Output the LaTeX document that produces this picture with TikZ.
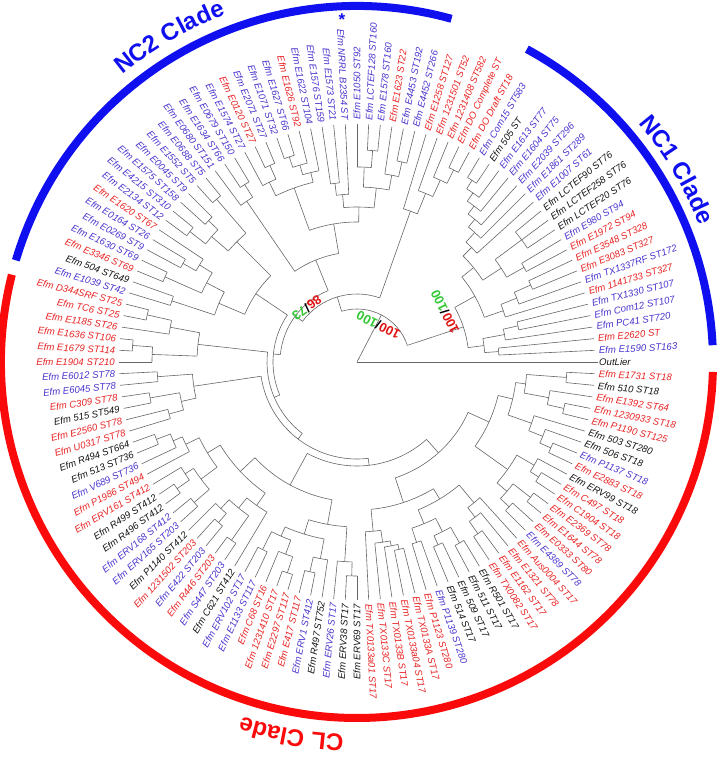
\documentclass[tikz,border=0pt]{standalone}
\usepackage{fontspec}
\setmainfont{Liberation Sans}
\usetikzlibrary{decorations.text}
\definecolor{lr}{RGB}{232,35,35}
\definecolor{lb}{RGB}{72,52,205}
\definecolor{lk}{RGB}{20,20,20}
\definecolor{cladeblue}{RGB}{15,15,240}
\definecolor{cladered}{RGB}{250,10,10}
\definecolor{bsred}{RGB}{225,20,20}
\definecolor{bsgreen}{RGB}{50,200,50}
\tikzset{
  treeline/.style={draw=black!60, line width=0.6pt},
  leaflabel/.style={font=\itshape\fontsize{9.6}{10}\selectfont, inner sep=1pt},
  cladearc/.style={line width=8pt},
  bslabel/.style={font=\bfseries\fontsize{13}{13}\selectfont, inner sep=0pt}
}
\newcommand\leafnode[3]{%
  \pgfmathsetmacro\tkL{#1*2.8125}%
  \expandafter\xdef\csname tA#1\endcsname{\tkL}%
  \expandafter\xdef\csname tR#1\endcsname{238pt}%
  \pgfmathtruncatemacro\tkF{(\tkL>90 && \tkL<=270) ? 1 : 0}%
  \ifnum\tkF=1
    \pgfmathsetmacro\tkT{\tkL+180}%
    \node[leaflabel, text=#2, anchor=east, rotate=\tkT] (L#1) at (\tkL:241pt) {#3};%
  \else
    \node[leaflabel, text=#2, anchor=west, rotate=\tkL] (L#1) at (\tkL:241pt) {#3};%
  \fi}
\newcommand\clade[3]{%
  \gdef\cfirst{}%
  \foreach \cx in {#3}{\ifx\cfirst\empty\xdef\cfirst{\cx}\fi\xdef\clast{\cx}}%
  \edef\tkA{\csname tA\cfirst\endcsname}%
  \edef\tkB{\csname tA\clast\endcsname}%
  \pgfmathsetmacro\tkM{(\tkA+\tkB)/2}%
  \expandafter\xdef\csname tA#1\endcsname{\tkM}%
  \expandafter\xdef\csname tR#1\endcsname{#2pt}%
  \draw[treeline] (\tkA:#2pt) arc[start angle=\tkA, end angle=\tkB, radius=#2pt];%
  \foreach \cx in {#3}{%
    \edef\tkC{\csname tA\cx\endcsname}\edef\tkR{\csname tR\cx\endcsname}%
    \draw[treeline] (\tkC:#2pt) -- (\tkC:\tkR);}%
}
\begin{document}
\begin{tikzpicture}[x=1pt,y=1pt]
\useasboundingbox (-357,-395) rectangle (363,362);
% leaves
\node[leaflabel, text=lk, anchor=west] (L0) at (0:241pt) {OutLier};
\leafnode{1}{lb}{Efm E1590 ST163}
\leafnode{2}{lr}{Efm E2620 ST}
\leafnode{3}{lb}{Efm PC41 ST720}
\leafnode{4}{lb}{Efm Com12 ST107}
\leafnode{5}{lb}{Efm TX1330 ST107}
\leafnode{6}{lr}{Efm 1141733 ST327}
\leafnode{7}{lb}{Efm TX1337RF ST172}
\leafnode{8}{lr}{Efm E3083 ST327}
\leafnode{9}{lr}{Efm E3548 ST328}
\leafnode{10}{lr}{Efm E1972 ST94}
\leafnode{11}{lb}{Efm E980 ST94}
\leafnode{12}{lk}{Efm LCTEF20 ST76}
\leafnode{13}{lk}{Efm LCTEF258 ST76}
\leafnode{14}{lk}{Efm LCTEF90 ST76}
\leafnode{15}{lb}{Efm E1007 ST61}
\leafnode{16}{lb}{Efm E1861 ST289}
\leafnode{17}{lb}{Efm E2039 ST296}
\leafnode{18}{lb}{Efm E1604 ST75}
\leafnode{19}{lb}{Efm E1613 ST77}
\leafnode{20}{lk}{Efm 505 ST}
\leafnode{21}{lb}{Efm Com15 ST583}
\leafnode{22}{lr}{Efm DO Draft ST18}
\leafnode{23}{lr}{Efm DO Complete ST}
\leafnode{24}{lr}{Efm 1231408 ST582}
\leafnode{25}{lr}{Efm 1231501 ST52}
\leafnode{26}{lr}{Efm E1258 ST127}
\leafnode{27}{lb}{Efm E4452 ST266}
\leafnode{28}{lb}{Efm E4453 ST192}
\leafnode{29}{lr}{Efm E1623 ST22}
\leafnode{30}{lb}{Efm E1578 ST160}
\leafnode{31}{lb}{Efm LCTEF128 ST160}
\leafnode{32}{lb}{Efm E1050 ST92}
\leafnode{33}{lb}{Efm NRRL B2354 ST}
\leafnode{34}{lb}{Efm E1573 ST21}
\leafnode{35}{lb}{Efm E1576 ST159}
\leafnode{36}{lb}{Efm E1622 ST104}
\leafnode{37}{lr}{Efm E1626 ST92}
\leafnode{38}{lb}{Efm E1627 ST66}
\leafnode{39}{lb}{Efm E1071 ST32}
\leafnode{40}{lb}{Efm E2071 ST27}
\leafnode{41}{lr}{Efm E0120 ST27}
\leafnode{42}{lb}{Efm E1574 ST27}
\leafnode{43}{lb}{Efm E0679 ST150}
\leafnode{44}{lb}{Efm E1634 ST66}
\leafnode{45}{lb}{Efm E0680 ST151}
\leafnode{46}{lb}{Efm E0688 ST5}
\leafnode{47}{lb}{Efm E1552 ST5}
\leafnode{48}{lb}{Efm E0045 ST9}
\leafnode{49}{lb}{Efm E1575 ST158}
\leafnode{50}{lb}{Efm E4215 ST310}
\leafnode{51}{lb}{Efm E2134 ST12}
\leafnode{52}{lr}{Efm E1620 ST67}
\leafnode{53}{lb}{Efm E0164 ST26}
\leafnode{54}{lb}{Efm E0269 ST9}
\leafnode{55}{lb}{Efm E1630 ST69}
\leafnode{56}{lr}{Efm E3346 ST69}
\leafnode{57}{lk}{Efm 504 ST649}
\leafnode{58}{lb}{Efm E1039 ST42}
\leafnode{59}{lr}{Efm D344SRF ST25}
\leafnode{60}{lr}{Efm TC6 ST25}
\leafnode{61}{lr}{Efm E1185 ST26}
\leafnode{62}{lr}{Efm E1636 ST106}
\leafnode{63}{lr}{Efm E1679 ST114}
\leafnode{64}{lr}{Efm E1904 ST210}
\leafnode{65}{lb}{Efm E6012 ST78}
\leafnode{66}{lb}{Efm E6045 ST78}
\leafnode{67}{lr}{Efm C309 ST78}
\leafnode{68}{lk}{Efm 515 ST549}
\leafnode{69}{lr}{Efm E2560 ST78}
\leafnode{70}{lr}{Efm U0317 ST78}
\leafnode{71}{lk}{Efm R494 ST664}
\leafnode{72}{lk}{Efm 513 ST736}
\leafnode{73}{lb}{Efm V689 ST736}
\leafnode{74}{lr}{Efm P1986 ST494}
\leafnode{75}{lr}{Efm ERV161 ST412}
\leafnode{76}{lk}{Efm R499 ST412}
\leafnode{77}{lk}{Efm R496 ST412}
\leafnode{78}{lb}{Efm ERV168 ST412}
\leafnode{79}{lb}{Efm ERV165 ST203}
\leafnode{80}{lk}{Efm P1140 ST412}
\leafnode{81}{lr}{Efm 1231502 ST203}
\leafnode{82}{lb}{Efm E422 ST203}
\leafnode{83}{lr}{Efm R446 ST203}
\leafnode{84}{lb}{Efm S447 ST203}
\leafnode{85}{lk}{Efm C621 ST412}
\leafnode{86}{lb}{Efm ERV102 ST17}
\leafnode{87}{lb}{Efm E1133 ST117}
\leafnode{88}{lr}{Efm C68 ST16}
\leafnode{89}{lr}{Efm 1231410 ST17}
\leafnode{90}{lr}{Efm E2297 ST117}
\leafnode{91}{lr}{Efm E417 ST117}
\leafnode{92}{lb}{Efm ERV1 ST412}
\leafnode{93}{lk}{Efm R497 ST752}
\leafnode{94}{lb}{Efm ERV26 ST17}
\leafnode{95}{lk}{Efm ERV38 ST17}
\leafnode{96}{lk}{Efm ERV69 ST17}
\leafnode{97}{lr}{Efm TX0133a01 ST17}
\leafnode{98}{lr}{Efm TX0133C ST17}
\leafnode{99}{lr}{Efm TX0133B ST17}
\leafnode{100}{lr}{Efm TX0133a04 ST17}
\leafnode{101}{lr}{Efm TX0133A ST17}
\leafnode{102}{lr}{Efm P1123 ST280}
\leafnode{103}{lb}{Efm P1139 ST280}
\leafnode{104}{lk}{Efm 514 ST17}
\leafnode{105}{lk}{Efm 509 ST17}
\leafnode{106}{lk}{Efm 511 ST17}
\leafnode{107}{lk}{Efm R501 ST17}
\leafnode{108}{lr}{Efm TX0082 ST17}
\leafnode{109}{lr}{Efm E1162 ST17}
\leafnode{110}{lr}{Efm E1321 ST78}
\leafnode{111}{lr}{Efm Aus0004 ST17}
\leafnode{112}{lb}{Efm E4389 ST78}
\leafnode{113}{lr}{Efm E0333 ST80}
\leafnode{114}{lr}{Efm E1644 ST78}
\leafnode{115}{lr}{Efm E2369 ST78}
\leafnode{116}{lr}{Efm C1904 ST18}
\leafnode{117}{lr}{Efm C497 ST18}
\leafnode{118}{lk}{Efm ERV99 ST18}
\leafnode{119}{lr}{Efm E2883 ST18}
\leafnode{120}{lb}{Efm P1137 ST18}
\leafnode{121}{lk}{Efm 506 ST18}
\leafnode{122}{lk}{Efm 503 ST280}
\leafnode{123}{lr}{Efm P1190 ST125}
\leafnode{124}{lr}{Efm 1230933 ST18}
\leafnode{125}{lr}{Efm E1392 ST64}
\leafnode{126}{lk}{Efm 510 ST18}
\leafnode{127}{lr}{Efm E1731 ST18}
% NC1
\clade{a1}{142}{1,2}
\clade{a2}{165}{4,5}
\clade{a3}{150}{3,a2}
\clade{a4}{128}{a1,a3}
\clade{a5}{190}{8,9}
\clade{a6}{172}{7,a5}
\clade{a7}{155}{6,a6}
\clade{a8}{192}{10,11}
\clade{a9}{205}{12,13,14}
\clade{a10}{172}{a8,a9}
\clade{a11}{215}{20,21}
\clade{a12}{205}{19,a11}
\clade{a13}{195}{18,a12}
\clade{a14}{185}{17,a13}
\clade{a15}{175}{16,a14}
\clade{a16}{162}{15,a15}
\clade{a17}{150}{a10,a16}
\clade{a18}{135}{a7,a17}
\clade{NCa}{112}{a4,a18}
% group 22-26
\clade{g1}{215}{22,23}
\clade{g2}{200}{24,g1}
\clade{g3}{182}{25,g2}
\clade{G}{160}{26,g3}
% NC2 part a
\clade{b1}{205}{27,28}
\clade{b2}{190}{29,b1}
\clade{b3}{212}{30,31}
\clade{b4}{195}{32,b3}
\clade{b5}{175}{b2,b4}
\clade{b6}{180}{34,35}
\clade{b7}{168}{33,b6}
\clade{b8}{155}{b5,b7}
\clade{b9}{216}{38,39}
\clade{b10}{205}{37,b9}
\clade{b11}{195}{36,b10}
\clade{b12}{215}{40,41}
\clade{b13}{200}{42,b12}
\clade{b14}{185}{b11,b13}
\clade{b15}{140}{b8,b14}
\clade{b16}{210}{43,44}
\clade{b16b}{195}{b16,45}
\clade{NC2a}{110}{b15,b16b}
% NC2 part b
\clade{b17}{215}{46,47}
\clade{b20}{205}{48,49}
\clade{b21}{212}{50,51}
\clade{b22}{192}{b20,b21}
\clade{b23}{170}{b17,b22}
\clade{b25}{200}{53,54}
\clade{b26}{185}{52,b25}
\clade{b27}{210}{55,56}
\clade{b28}{170}{b26,b27}
\clade{b29}{195}{57,58}
\clade{b30}{150}{b28,b29}
\clade{NC2b}{122}{b23,b30}
% CL
\clade{c1}{215}{59,60}
\clade{c2}{190}{c1,61}
\clade{c3}{225}{62,63}
\clade{c4}{205}{c3,64}
\clade{c5}{160}{c2,c4}
\clade{c6}{200}{65,66}
\clade{c7}{210}{67,68}
\clade{c8}{195}{69,70}
\clade{c9}{180}{c7,c8}
\clade{c10}{165}{c6,c9}
\clade{c12}{215}{71,72}
\clade{c13}{200}{c12,73}
\clade{c14}{190}{c13,74}
\clade{c15}{220}{76,77}
\clade{c16}{205}{75,c15}
\clade{c17}{215}{78,79}
\clade{c18}{195}{c16,c17}
\clade{c19}{175}{c14,c18}
\clade{c20}{212}{81,82}
\clade{c21}{200}{80,c20}
\clade{c22}{218}{83,84}
\clade{c23}{188}{c21,c22}
\clade{c24}{175}{c23,85}
\clade{c25}{160}{c19,c24}
\clade{c26}{210}{86,87}
\clade{c27}{222}{89,90}
\clade{c28}{205}{88,c27}
\clade{c29}{190}{c26,c28}
\clade{c30}{215}{91,92}
\clade{c31}{200}{c30,93}
\clade{c32}{180}{c29,c31}
\clade{c33}{214}{95,96}
\clade{c34}{200}{94,c33}
\clade{c35}{165}{c32,c34}
\clade{c36}{140}{c25,c35}
\clade{d1}{192}{100,101}
\clade{d2}{187}{99,d1}
\clade{d3}{182}{98,d2}
\clade{d4}{170}{97,d3}
\clade{d5}{190}{102,103}
\clade{d6}{200}{104,105}
\clade{d7}{208}{106,107}
\clade{d8}{190}{d6,d7}
\clade{d9}{175}{d5,d8}
\clade{d10}{210}{108,109}
\clade{d11}{195}{d10,110}
\clade{d12}{183}{d11,111}
\clade{d13}{160}{d9,d12}
\clade{d14}{148}{d4,d13}
\clade{e1}{210}{112,113}
\clade{e2}{220}{114,115}
\clade{e3}{198}{e1,e2}
\clade{e4}{215}{116,117}
\clade{e5}{205}{e4,118}
\clade{e6}{185}{e3,e5}
\clade{e7}{212}{119,120}
\clade{e8}{200}{e7,121}
\clade{e9}{185}{e8,122}
\clade{e10}{212}{123,124}
\clade{e11}{195}{e10,125}
\clade{e12}{210}{126,127}
\clade{e13}{170}{e11,e12}
\clade{e14}{160}{e9,e13}
\clade{e15}{145}{e6,e14}
\clade{e16}{122}{d14,e15}
\clade{CLr2}{104}{c36,e16}
\clade{CLr}{97}{c10,CLr2}
\clade{CL}{90}{c5,CLr}
\clade{W}{84}{NC2b,CL}
\clade{Y}{77}{NC2a,W}
\clade{X}{68}{G,Y}
\clade{ING}{53}{NCa,X}
% root
\edef\tkC{\csname tAING\endcsname}
\draw[treeline] (0,0) -- (\tkC:53pt);
\draw[treeline] (0,0) -- (L0.west);
% bootstrap labels
\node[bslabel, rotate=153] (bs1) at (60:42.5pt) {\textcolor{bsred}{100}/\textcolor{bsgreen}{100}};
\node[bslabel, rotate=117] (bs2) at (29.6:101pt) {\textcolor{bsred}{100}/\textcolor{bsgreen}{100}};
\node[bslabel, rotate=216] (bs3) at (132.8:73.6pt) {\textcolor{bsred}{86}/\textcolor{bsgreen}{73}};
% asterisk
\node[text=cladeblue, font=\bfseries\fontsize{17}{17}\selectfont, inner sep=0pt] (star) at (92.5:343pt) {*};
% clade arcs
\draw[cladearc, cladeblue] (163.4:356pt) arc[start angle=163.4, end angle=74.6, radius=356pt];
\draw[cladearc, cladeblue] (61.5:356pt) arc[start angle=61.5, end angle=2.7, radius=356pt];
\draw[cladearc, cladered] (165.8:356pt) arc[start angle=165.8, end angle=358.4, radius=356pt];
% clade names
\path[decorate, decoration={text along path, text align=center, text={|\bfseries\fontsize{24}{24}\selectfont\color{cladeblue}|NC2 Clade}}] (150:371pt) arc[start angle=150, end angle=90, radius=371pt];
\path[decorate, decoration={text along path, text align=center, text={|\bfseries\fontsize{24}{24}\selectfont\color{cladeblue}|NC1 Clade}}] (61:369pt) arc[start angle=61, end angle=1, radius=369pt];
\path[decorate, decoration={text along path, text align=center, text={|\bfseries\fontsize{24}{24}\selectfont\color{cladered}|CL Clade}}] (290:373pt) arc[start angle=290, end angle=230, radius=373pt];
\end{tikzpicture}
\end{document}
